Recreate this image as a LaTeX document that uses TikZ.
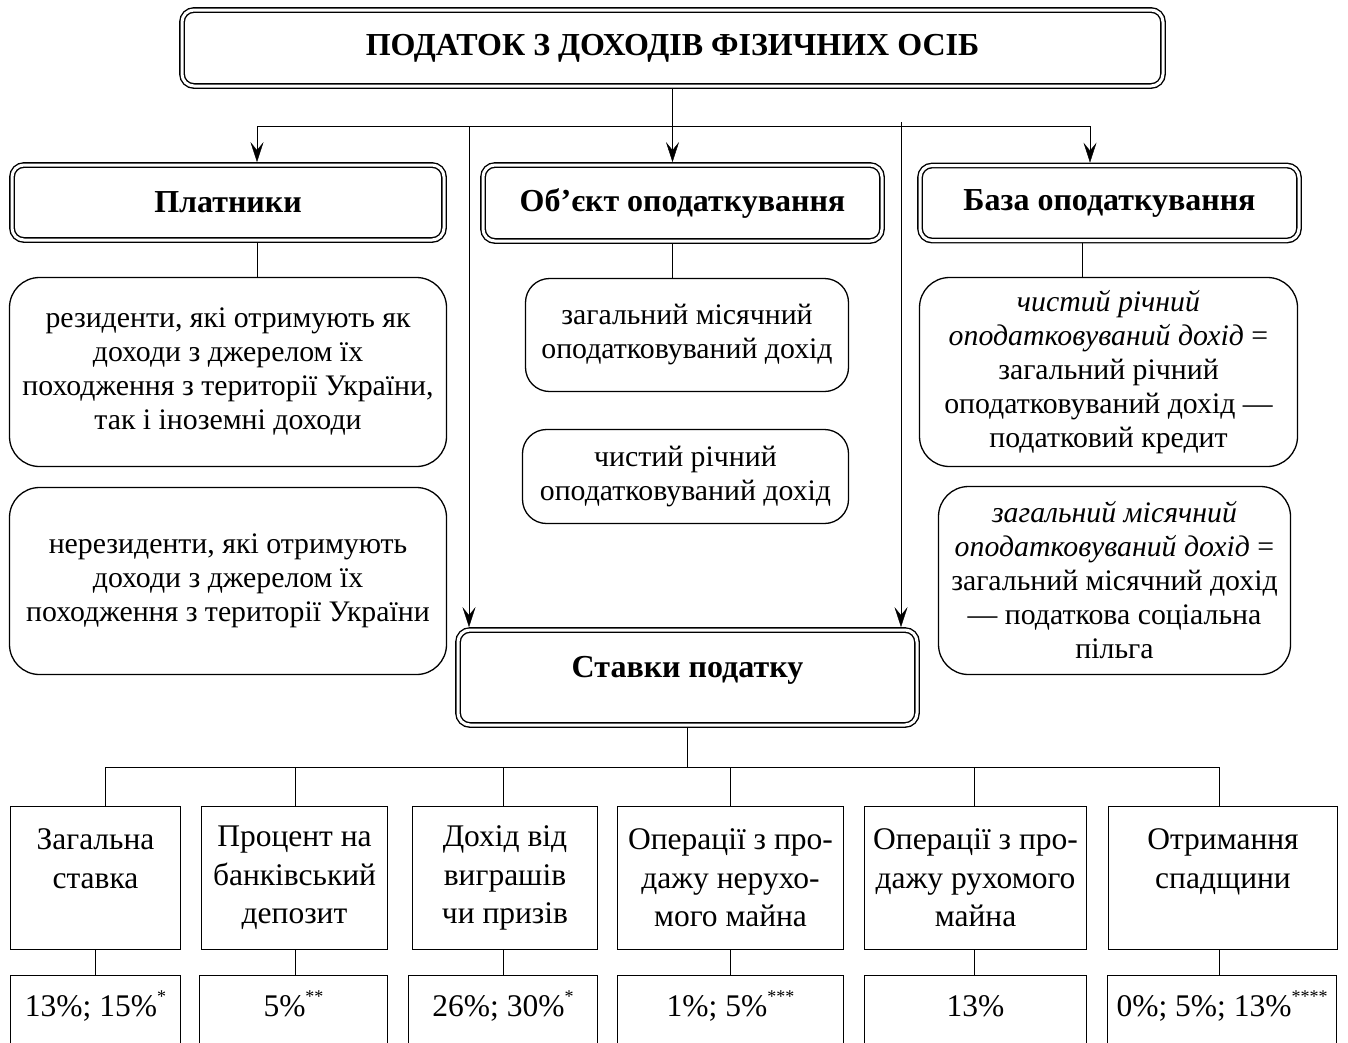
\documentclass[tikz,border=0pt]{standalone}
\usepackage{fontspec}
\setmainfont{Liberation Serif}
\usetikzlibrary{arrows.meta}
\newcommand\headfont{\fontsize{32}{36}\selectfont\bfseries}
\newcommand\midfont{\fontsize{29.8}{34}\selectfont}
\newcommand\lowfont{\fontsize{31.5}{38.5}\selectfont}
\newcommand\rmark[1]{\raisebox{14pt}{\fontsize{18}{18}\selectfont#1}}
\tikzset{line width=1.2pt}

\begin{document}
\begin{tikzpicture}[x=1pt,y=-1pt,
    head/.style={draw,double,double distance=3pt,line width=1.4pt,rounded corners=12pt,font=\headfont,outer sep=2.9pt},
    soft/.style={draw,line width=1.3pt,rounded corners=30pt,font=\midfont,align=center},
    cell/.style={draw,line width=1.3pt,font=\lowfont,align=center},
    rate/.style={cell,anchor=north,text height=22pt,text depth=100pt,inner ysep=19pt},
    arr/.style={-{Stealth[length=20pt,width=13pt,inset=8pt]}}]
    \useasboundingbox (0,0) rectangle (1348,1042);
        % headings
        \node[head,minimum width=981pt,minimum height=76pt] (title) at (672.5,48) {ПОДАТОК З ДОХОДІВ ФІЗИЧНИХ ОСІБ};
        \node[head,minimum width=432pt,minimum height=75pt] (plat) at (228,202.5) {Платники};
        \node[head,minimum width=399pt,minimum height=76pt] (obj) at (682.5,203) {Об’єкт оподаткування};
        \node[head,minimum width=379pt,minimum height=75pt] (baza) at (1109.5,203) {База оподаткування};
        \node[head,minimum width=459pt,minimum height=95pt,text depth=22pt] (st) at (687.5,677.5) {Ставки податку};
        % payers
        \node[soft,minimum width=437pt,minimum height=189pt] (res) at (228,372) {резиденти, які отримують як\\доходи з джерелом їх\\походження з території України,\\так і іноземні доходи};
        \node[soft,minimum width=437pt,minimum height=187pt] (nres) at (228,581) {нерезиденти, які отримують\\доходи з джерелом їх\\походження з території України};
        % object
        \node[soft,rounded corners=24pt,minimum width=323pt,minimum height=113pt] (mz) at (687,335) {загальний місячний\\оподатковуваний дохід};
        \node[soft,rounded corners=24pt,minimum width=326pt,minimum height=94pt] (mc) at (685.5,476.5) {чистий річний\\оподатковуваний дохід};
        % base
        \node[soft,minimum width=378pt,minimum height=189pt] (rb1) at (1108.5,372) {\textit{чистий річний}\\\textit{оподатковуваний дохід} =\\загальний річний\\оподатковуваний дохід —\\податковий кредит};
        \node[soft,minimum width=352pt,minimum height=188pt] (rb2) at (1114.5,580.5) {\textit{загальний місячний}\\\textit{оподатковуваний дохід} =\\загальний місячний дохід\\— податкова соціальна\\пільга};
        % kinds of rates
        \node[cell,minimum width=170pt,minimum height=143pt] (s1) at (95.5,878) {Загальна\\ставка\\\mbox{}};
        \node[cell,minimum width=186pt,minimum height=143pt] (s2) at (294.5,878) {Процент на\\банківський\\депозит};
        \node[cell,minimum width=185pt,minimum height=143pt] (s3) at (505,878) {Дохід від\\виграшів\\чи призів};
        \node[cell,minimum width=226pt,minimum height=143pt] (s4) at (730.5,878) {Операції з про-\\дажу нерухо-\\мого майна};
        \node[cell,minimum width=222pt,minimum height=143pt] (s5) at (975.5,878) {Операції з про-\\дажу рухомого\\майна};
        \node[cell,minimum width=229pt,minimum height=143pt] (s6) at (1223,878) {Отримання\\спадщини\\\mbox{}};
        % values
        \node[rate,minimum width=170pt] (r1) at (95.5,975) {13\%; 15\%\rmark{*}};
        \node[rate,minimum width=188pt] (r2) at (293.5,975) {5\%\rmark{**}};
        \node[rate,minimum width=189pt] (r3) at (503,975) {26\%; 30\%\rmark{*}};
        \node[rate,minimum width=226pt] (r4) at (730.5,975) {1\%; 5\%\rmark{***}};
        \node[rate,minimum width=222pt] (r5) at (975.5,975) {13\%};
        \node[rate,minimum width=229pt,inner xsep=1pt] (r6) at (1222,975) {0\%; 5\%; 13\%\rmark{****}};
        % connectors
        \coordinate (tl) at (257,126);
        \coordinate (tr) at (1090,126);
        \coordinate (cl) at (469,126);
        \coordinate (cr) at (901,122);
        \coordinate (bz) at (1082,126);
        \draw (tl) -- (tr);
        \draw[arr] (title.south) -- (title.south |- obj.north);
        \draw[arr] (tl) -- (tl |- plat.north);
        \draw[arr] (tr) -- (tr |- baza.north);
        \draw[arr] (cl) -- (cl |- st.north);
        \draw[arr] (cr) -- (cr |- st.north);
        \draw (tl |- plat.south) -- (tl |- res.north);
        \draw (title.south |- obj.south) -- (title.south |- mz.north);
        \draw (bz |- baza.south) -- (bz |- rb1.north);
        \coordinate (j1) at (105,767);
        \coordinate (j2) at (295,767);
        \coordinate (j3) at (503,767);
        \coordinate (j4) at (730,767);
        \coordinate (j5) at (974,767);
        \coordinate (j6) at (1219,767);
        \draw (st.south) -- (st.south |- j1);
        \draw (j1) -- (j6);
        \draw (j1) -- (j1 |- s1.north);
        \draw (j2) -- (j2 |- s2.north);
        \draw (j3) -- (j3 |- s3.north);
        \draw (j4) -- (j4 |- s4.north);
        \draw (j5) -- (j5 |- s5.north);
        \draw (j6) -- (j6 |- s6.north);
        \draw (s1.south) -- (r1.north);
        \draw (j2 |- s2.south) -- (j2 |- r2.north);
        \draw (j3 |- s3.south) -- (j3 |- r3.north);
        \draw (j4 |- s4.south) -- (j4 |- r4.north);
        \draw (j5 |- s5.south) -- (j5 |- r5.north);
        \draw (j6 |- s6.south) -- (j6 |- r6.north);
    \end{tikzpicture}
\end{document}
